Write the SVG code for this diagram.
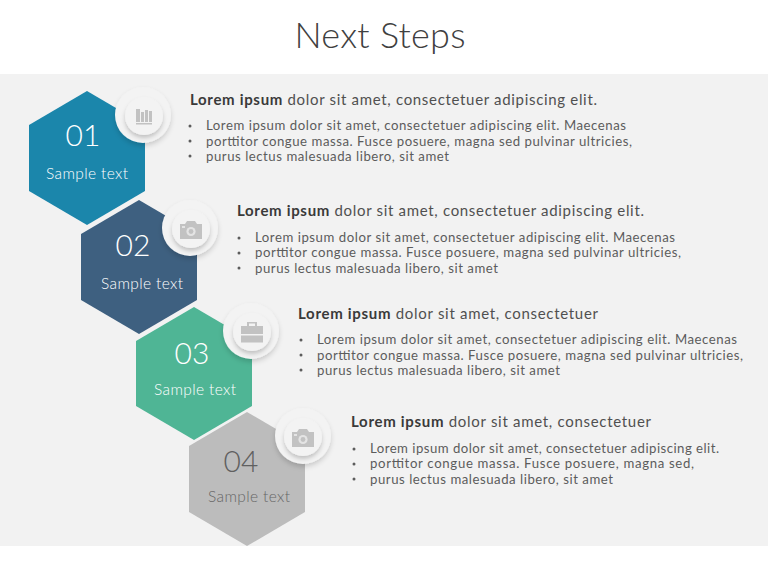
<svg xmlns="http://www.w3.org/2000/svg" width="768" height="576" viewBox="0 0 768 576">
<style>
text{font-family:"Lato","Noto Sans","Liberation Sans",sans-serif}
.t{font-size:36px;fill:#404040;font-weight:300}
.num{font-size:30px;fill:#fff;text-anchor:middle;font-weight:300}
.s{font-size:15.5px;fill:#fff;text-anchor:middle;font-weight:300}
.h{font-size:15px;fill:#505050}
.h tspan{font-weight:700;fill:#3a3a3a}
.b{font-size:13.2px;fill:#5c5c5c}
.d{fill:#5c5c5c}
.ic{fill:#c2c2c2}
.o{fill:#f3f3f3;filter:url(#sh)}
.i{fill:#f3f3f3;filter:url(#sh2)}
</style>
<defs>
<filter id="sh" x="-40%" y="-40%" width="180%" height="180%"><feDropShadow dx="0" dy="3" stdDeviation="2.500" flood-color="#000" flood-opacity=".16"/></filter>
<filter id="sh2" x="-40%" y="-40%" width="180%" height="180%"><feDropShadow dx="0" dy="3" stdDeviation="2" flood-color="#000" flood-opacity=".2"/></filter>
<g id="cam"><path class="ic" d="M-11-6h5l2-3h8l2 3h5v15h-22z"/><circle r="4.6" cy="1.500" fill="#e4e4e4"/><circle r="2.400" cy="1.500" class="ic"/><rect x="-9" y="-4" width="3" height="2" fill="#e4e4e4"/></g>
</defs>
<rect x="0" y="74" width="768" height="472" fill="#f2f2f2"/>
<text class="t" x="380" y="48" text-anchor="middle" textLength="171">Next Steps</text>
<g id="connectors"></g>
<g id="node-01">
<path d="M87 91L145 125V191L87 225L29 191V125Z" fill="#1b86ab"/>
<text class="num" x="83" y="146">01</text><text class="s" x="87" y="179" textLength="82">Sample text</text>
<circle class="o" cx="143" cy="115" r="28"/><circle class="i" cx="144" cy="116" r="19"/>
<g class="ic"><rect x="136" y="109" width="4" height="13"/><rect x="141" y="112" width="3" height="10"/><rect x="145" y="110" width="3" height="12"/><rect x="149" y="111" width="3" height="11"/><rect x="136" y="123" width="16" height="1.500"/></g>
<text class="h" x="190" y="105" textLength="407"><tspan>Lorem ipsum</tspan> dolor sit amet, consectetuer adipiscing elit.</text>
<circle class="d" cx="190" cy="126" r="1.500"/><circle class="d" cx="190" cy="141" r="1.500"/><circle class="d" cx="190" cy="156" r="1.500"/>
<text class="b" x="206" y="130" textLength="420">Lorem ipsum dolor sit amet, consectetuer adipiscing elit. Maecenas</text>
<text class="b" x="206" y="146" textLength="426">porttitor congue massa. Fusce posuere, magna sed pulvinar ultricies,</text>
<text class="b" x="206" y="161" textLength="243">purus lectus malesuada libero, sit amet</text>
</g>
<g id="node-02">
<path d="M139 200L197 234V300L139 334L81 300V234Z" fill="#3e6080"/>
<text class="num" x="133" y="256">02</text><text class="s" x="142" y="289" textLength="82">Sample text</text>
<circle class="o" cx="190" cy="228" r="28"/><circle class="i" cx="191" cy="229" r="19"/>
<use href="#cam" x="191" y="230"/>
<text class="h" x="237" y="216" textLength="407"><tspan>Lorem ipsum</tspan> dolor sit amet, consectetuer adipiscing elit.</text>
<circle class="d" cx="239" cy="238" r="1.500"/><circle class="d" cx="239" cy="253" r="1.500"/><circle class="d" cx="239" cy="268" r="1.500"/>
<text class="b" x="255" y="242" textLength="420">Lorem ipsum dolor sit amet, consectetuer adipiscing elit. Maecenas</text>
<text class="b" x="255" y="257" textLength="426">porttitor congue massa. Fusce posuere, magna sed pulvinar ultricies,</text>
<text class="b" x="255" y="273" textLength="243">purus lectus malesuada libero, sit amet</text>
</g>
<g id="node-03">
<path d="M194 307L252 341V406L194 440L136 406V341Z" fill="#4fb595"/>
<text class="num" x="192" y="364">03</text><text class="s" x="195" y="395" textLength="82">Sample text</text>
<circle class="o" cx="251" cy="331" r="28"/><circle class="i" cx="252" cy="332" r="19"/>
<g class="ic"><path d="M241 326h22v8h-22zM241 335.500h22v7h-22z"/><path d="M247 326v-4h10v4h-2v-2.500h-6v2.500z"/></g>
<text class="h" x="298" y="319" textLength="300"><tspan>Lorem ipsum</tspan> dolor sit amet, consectetuer</text>
<circle class="d" cx="301" cy="340" r="1.500"/><circle class="d" cx="301" cy="355" r="1.500"/><circle class="d" cx="301" cy="370" r="1.500"/>
<text class="b" x="317" y="344" textLength="420">Lorem ipsum dolor sit amet, consectetuer adipiscing elit. Maecenas</text>
<text class="b" x="317" y="360" textLength="426">porttitor congue massa. Fusce posuere, magna sed pulvinar ultricies,</text>
<text class="b" x="317" y="375" textLength="243">purus lectus malesuada libero, sit amet</text>
</g>
<g id="node-04">
<path d="M247 412L305 446V512L247 546L189 512V446Z" fill="#bcbcbc"/>
<text class="num" x="241" y="472" style="fill:#606060">04</text><text class="s" x="249" y="502" textLength="82" style="fill:#666">Sample text</text>
<circle class="o" cx="303" cy="436" r="28"/><circle class="i" cx="303" cy="437" r="19"/>
<use href="#cam" x="303" y="438"/>
<text class="h" x="351" y="427" textLength="300"><tspan>Lorem ipsum</tspan> dolor sit amet, consectetuer</text>
<circle class="d" cx="354" cy="449" r="1.500"/><circle class="d" cx="354" cy="464" r="1.500"/><circle class="d" cx="354" cy="479" r="1.500"/>
<text class="b" x="370" y="453" textLength="349">Lorem ipsum dolor sit amet, consectetuer adipiscing elit.</text>
<text class="b" x="370" y="468" textLength="324">porttitor congue massa. Fusce posuere, magna sed,</text>
<text class="b" x="370" y="484" textLength="243">purus lectus malesuada libero, sit amet</text>
</g>
</svg>
